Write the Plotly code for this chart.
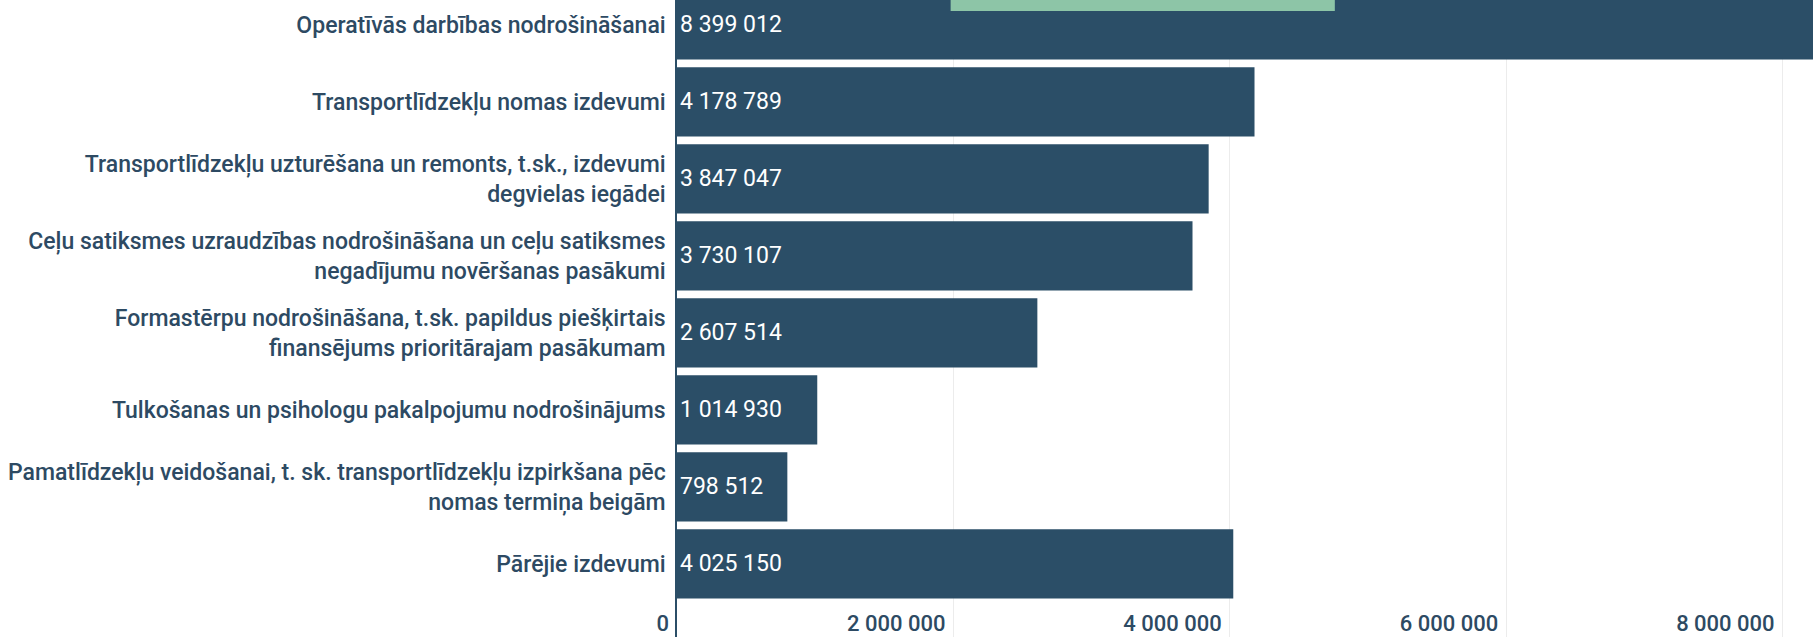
import plotly.graph_objects as go

categories = [
    "Operatīvās darbības nodrošināšanai",
    "Transportlīdzekļu nomas izdevumi",
    "Transportlīdzekļu uzturēšana un remonts, t.sk., izdevumi<br>degvielas iegādei",
    "Ceļu satiksmes uzraudzības nodrošināšana un ceļu satiksmes<br>negadījumu novēršanas pasākumi",
    "Formastērpu nodrošināšana, t.sk. papildus piešķirtais<br>finansējums prioritārajam pasākumam",
    "Tulkošanas un psihologu pakalpojumu nodrošinājums",
    "Pamatlīdzekļu veidošanai, t. sk. transportlīdzekļu izpirkšana pēc<br>nomas termiņa beigām",
    "Pārējie izdevumi",
]
values = [8399012, 4178789, 3847047, 3730107, 2607514, 1014930, 798512, 4025150]

# partially visible green element at the top (cut off by the viewport)
green_categories = ["Operatīvās darbības nodrošināšanai"]
green_base = [1980000]
green_values = [2780000]

tick_values = [0, 2000000, 4000000, 6000000, 8000000]

NAVY = "#2b4e67"
GREEN = "#8dc5a7"
TEXT = "#2d4a63"
FONT = "Roboto"

fig = go.Figure()
fig.add_trace(go.Bar(
    y=categories, x=values, orientation="h",
    marker=dict(color=NAVY, line=dict(width=0)),
    texttemplate="%{x:,}", textposition="inside", insidetextanchor="start",
    textfont=dict(family=FONT, size=23, color="#ffffff"),
    hoverinfo="skip", showlegend=False,
))
fig.add_trace(go.Bar(
    y=green_categories, x=green_values, base=green_base, orientation="h",
    marker=dict(color=GREEN, line=dict(width=0)),
    offset=-0.6, width=0.42,
    hoverinfo="skip", showlegend=False,
))

fig.update_layout(
    width=1813, height=637,
    margin=dict(l=677, r=0, t=0, b=0),
    paper_bgcolor="#ffffff", plot_bgcolor="#ffffff",
    barmode="overlay", bargap=0.1,
    separators=". ",
    font=dict(family=FONT, size=22, color=TEXT),
    showlegend=False,
    uniformtext=dict(mode=False),
)
fig.update_xaxes(
    range=[0, 8220000],
    tickvals=tick_values, tickformat=",",
    ticklabelposition="inside left", ticklabeloverflow="allow",
    ticklabelshift=-8, ticklabelstandoff=-4,
    ticks="", showgrid=True, gridcolor="#ececec", gridwidth=1,
    zeroline=False, showline=False,
    tickfont=dict(family=FONT, size=22, color=TEXT, weight=500),
)
fig.update_yaxes(
    type="category", categoryorder="array", categoryarray=categories,
    range=[7.951, -0.322],
    ticks="", ticklabelstandoff=5,
    showline=True, linecolor=NAVY, linewidth=1.5,
    showgrid=False, zeroline=False,
    tickfont=dict(family=FONT, size=23, color=TEXT, weight=500),
)

fig.write_html(
    "out.html",
    config={"displayModeBar": False},
    post_script="document.body.style.margin='0';document.body.style.overflow='hidden';",
)
